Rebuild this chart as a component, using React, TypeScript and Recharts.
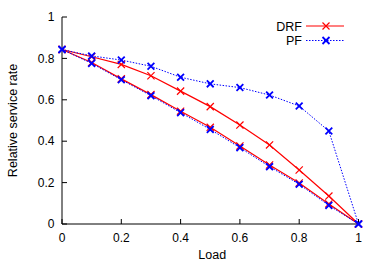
import React from 'react';
import { LineChart, Line, XAxis, YAxis, Legend, Label } from 'recharts';

const loads = [0, 0.1, 0.2, 0.3, 0.4, 0.5, 0.6, 0.7, 0.8, 0.9, 1];
const drfUpper = [0.843, 0.808, 0.771, 0.716, 0.642, 0.567, 0.478, 0.382, 0.261, 0.135, 0];
const drfLower = [0.843, 0.78, 0.701, 0.625, 0.545, 0.467, 0.377, 0.285, 0.198, 0.097, 0];
const pfUpper = [0.843, 0.812, 0.792, 0.762, 0.709, 0.677, 0.659, 0.623, 0.57, 0.449, 0];
const pfLower = [0.843, 0.776, 0.697, 0.62, 0.538, 0.457, 0.369, 0.277, 0.192, 0.09, 0];
const ticks = [0, 0.2, 0.4, 0.6, 0.8, 1];

const rows = loads.map((x, i) => ({
  x,
  drfUpper: drfUpper[i],
  drfLower: drfLower[i],
  pfUpper: pfUpper[i],
  pfLower: pfLower[i],
}));

const FONT = '"Liberation Sans", Arial, Helvetica, sans-serif';
const RED = '#ff0000';
const BLUE = '#0000ff';

const makeDot = (color: string, sw: number, s: number) => (props: any) => {
  const { cx, cy, index } = props;
  if (cx == null || cy == null) return <g key={index} />;
  return (
    <path
      key={index}
      d={`M${cx - s},${cy - s}L${cx + s},${cy + s}M${cx - s},${cy + s}L${cx + s},${cy - s}`}
      stroke={color}
      strokeWidth={sw}
      fill="none"
    />
  );
};

const redDot = makeDot(RED, 1.2, 3.6);
const blueDot = makeDot(BLUE, 1.8, 3.4);

const LegendContent = () => {
  const items = [
    { name: 'DRF', color: RED, dash: undefined, y: 26, sw: 1.2 },
    { name: 'PF', color: BLUE, dash: '1.5 1.5', y: 40.5, sw: 1.8 },
  ];
  return (
    <svg width={382} height={60} style={{ display: 'block' }}>
      {items.map((it) => (
        <g key={it.name}>
          <text x={302} y={it.y + 4.5} textAnchor="end" fontSize={12.5} fontFamily={FONT} fill="#000">
            {it.name}
          </text>
          <line x1={306} x2={344} y1={it.y} y2={it.y} stroke={it.color} strokeWidth={it.name === 'DRF' ? 1.2 : 1} strokeDasharray={it.dash} />
          <path
            d={`M${326 - 3.5},${it.y - 3.5}L${326 + 3.5},${it.y + 3.5}M${326 - 3.5},${it.y + 3.5}L${326 + 3.5},${it.y - 3.5}`}
            stroke={it.color}
            strokeWidth={it.sw}
            fill="none"
          />
        </g>
      ))}
    </svg>
  );
};

export default function App() {
  const tickStyle = { fontSize: 12, fontFamily: FONT, fill: '#000' };
  return (
    <div style={{ position: 'absolute', left: 0, top: 0, width: 382, height: 267, background: '#fff' }}>
      <LineChart
        width={382}
        height={267}
        data={rows}
        margin={{ top: 17, right: 23.5, bottom: 0, left: 0 }}
      >
        <XAxis
          xAxisId="x"
          dataKey="x"
          type="number"
          domain={[0, 1]}
          ticks={ticks}
          orientation="bottom"
          height={43}
          tickSize={-5}
          tickMargin={14}
          stroke="#000"
          tick={tickStyle}
          tickFormatter={(v: number) => String(v)}
        >
          <Label
            content={(p: any) => {
              const vb = p.viewBox;
              return (
                <text x={vb.x + vb.width / 2 + 2} y={vb.y + 35} textAnchor="middle" fontSize={12.5} fontFamily={FONT} fill="#000">
                  Load
                </text>
              );
            }}
          />
        </XAxis>
        <XAxis
          xAxisId="xt"
          dataKey="x"
          type="number"
          domain={[0, 1]}
          ticks={ticks}
          orientation="top"
          height={0}
          tickSize={-5}
          tick={false}
          stroke="#000"
        />
        <YAxis
          yAxisId="y"
          type="number"
          domain={[0, 1]}
          ticks={ticks}
          orientation="left"
          width={62}
          tickSize={-5}
          tickMargin={12.5}
          stroke="#000"
          tick={tickStyle}
          tickFormatter={(v: number) => String(v)}
        >
          <Label
            content={(p: any) => {
              const vb = p.viewBox;
              const cx = 12.5;
              const cy = vb.y + vb.height / 2;
              return (
                <text
                  x={cx}
                  y={cy}
                  textAnchor="middle"
                  dominantBaseline="central"
                  transform={`rotate(-90, ${cx}, ${cy})`}
                  fontSize={12.5}
                  fontFamily={FONT}
                  fill="#000"
                >
                  Relative service rate
                </text>
              );
            }}
          />
        </YAxis>
        <YAxis
          yAxisId="yr"
          type="number"
          domain={[0, 1]}
          ticks={ticks}
          orientation="right"
          width={0}
          tickSize={-5}
          tick={false}
          stroke="#000"
        />
        <Legend
          layout="vertical"
          align="center"
          verticalAlign="middle"
          wrapperStyle={{ left: 0, top: 0, width: 382, height: 60 }}
          content={<LegendContent />}
        />
        <Line
          xAxisId="x"
          yAxisId="y"
          dataKey="drfUpper"
          name="DRF"
          stroke={RED}
          strokeWidth={1.2}
          dot={redDot}
          isAnimationActive={false}
        />
        <Line
          xAxisId="x"
          yAxisId="y"
          dataKey="drfLower"
          name="DRF"
          legendType="none"
          stroke={RED}
          strokeWidth={1.2}
          dot={redDot}
          isAnimationActive={false}
        />
        <Line
          xAxisId="x"
          yAxisId="y"
          dataKey="pfUpper"
          name="PF"
          stroke={BLUE}
          strokeWidth={1}
          strokeDasharray="1.5 1.5"
          dot={blueDot}
          isAnimationActive={false}
        />
        <Line
          xAxisId="x"
          yAxisId="y"
          dataKey="pfLower"
          name="PF"
          legendType="none"
          stroke={BLUE}
          strokeWidth={1}
          strokeDasharray="1.5 1.5"
          dot={blueDot}
          isAnimationActive={false}
        />
      </LineChart>
    </div>
  );
}
